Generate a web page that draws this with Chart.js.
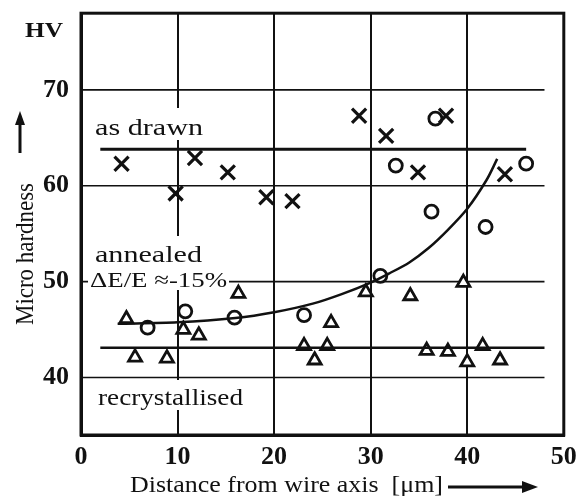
<!DOCTYPE html>
<html>
<head>
<meta charset="utf-8">
<script src="https://cdn.jsdelivr.net/npm/chart.js@4.4.1/dist/chart.umd.min.js"></script>
<style>
  html, body { margin: 0; padding: 0; background: #fff; }
  #wrap { width: 577px; height: 496px; position: relative; }
</style>
</head>
<body>
<div id="wrap"><canvas id="chart"></canvas></div>
<script>
// values
const xTicks = [0, 10, 20, 30, 40, 50];
const yTicks = [40, 50, 60, 70];

const crossX = [4.2, 9.8, 11.8, 15.2, 19.2, 21.9, 28.8, 31.6, 34.9, 37.8, 43.9];
const crossY = [62.3, 59.2, 62.9, 61.4, 58.8, 58.4, 67.3, 65.2, 61.4, 67.3, 61.2];

const circleX = [6.9, 10.8, 15.9, 23.1, 31.0, 32.6, 36.3, 36.7, 41.9, 46.1];
const circleY = [45.2, 46.9, 46.25, 46.5, 50.6, 62.1, 57.3, 67.0, 55.7, 62.3];

const triX = [4.7, 5.6, 8.9, 10.6, 12.2, 16.3, 23.1, 24.2, 25.5, 25.9, 29.5, 34.1, 35.8, 38.0, 39.6, 40.0, 41.6, 43.4];
const triY = [46.1, 42.1, 42.0, 45.0, 44.4, 48.75, 43.3, 41.8, 43.3, 45.7, 48.9, 48.5, 42.8, 42.7, 49.9, 41.6, 43.3, 41.8];

// fitted curve through the annealed points
const curveX = [3.8, 10, 16, 20, 24, 27, 30, 32, 34, 36, 38, 40, 42, 43.1];
const curveY = [45.6, 45.75, 46.2, 46.8, 47.7, 48.7, 49.9, 50.9, 52.0, 53.5, 55.4, 57.6, 60.6, 62.8];

// mean level lines
const drawnLineX = [2, 46.1];
const drawnLineY = [63.8, 63.8];
const recrystLineX = [2, 48];
const recrystLineY = [43.1, 43.1];

const gridEndX = 48;

const pts = (xs, ys) => xs.map((x, i) => ({ x: x, y: ys[i] }));
const SERIF = "'Liberation Serif', serif";

// draw a text stretched to a given width
function fitText(ctx, s, x, y, size, w, bold) {
    ctx.save();
    ctx.font = (bold ? "bold " : "") + size + "px " + SERIF;
    const sx = w / ctx.measureText(s).width;
    ctx.translate(x, y);
    ctx.scale(sx, 1);
    ctx.fillStyle = "#111";
    ctx.textBaseline = "alphabetic";
    ctx.fillText(s, 0, 0);
    ctx.restore();
}

const decor = {
    id: "decor",
    beforeDatasetsDraw(chart) {
        const ctx = chart.ctx;
        const xs = chart.scales.x, ys = chart.scales.y;
        // horizontal grid lines stop short of the right frame
        ctx.save();
        ctx.strokeStyle = "#111";
        ctx.lineWidth = 1.6;
        yTicks.forEach((v) => {
            const py = ys.getPixelForValue(v);
            ctx.beginPath();
            ctx.moveTo(xs.getPixelForValue(0), py);
            ctx.lineTo(xs.getPixelForValue(gridEndX), py);
            ctx.stroke();
        });
        // white boxes behind the labels
        ctx.fillStyle = "#fff";
        ctx.fillRect(92, 108, 114, 32);
        ctx.fillRect(92, 236, 112, 36);
        ctx.fillRect(88, 270, 141, 20);
        ctx.fillRect(94, 380, 152, 30);
        ctx.restore();

        fitText(ctx, "as drawn", 95, 135, 24, 108);
        fitText(ctx, "annealed", 95, 262, 24, 107);
        fitText(ctx, "\u0394E/E \u2248-15%", 90, 287, 22, 137);
        fitText(ctx, "recrystallised", 98, 405, 24, 145);
    },
    afterDraw(chart) {
        const ctx = chart.ctx;
        const a = chart.chartArea;
        ctx.save();
        // frame
        ctx.strokeStyle = "#111";
        ctx.lineWidth = 3;
        ctx.strokeRect(a.left, a.top, a.right - a.left, a.bottom - a.top);

        fitText(ctx, "HV", 25, 37, 22, 38, true);
        fitText(ctx, "Distance from wire axis  [\u03bcm]", 130, 492, 24, 313);

        // rotated y title
        ctx.save();
        ctx.translate(33, 325);
        ctx.rotate(-Math.PI / 2);
        ctx.font = "23px " + SERIF;
        const sx = 142 / ctx.measureText("Micro hardness").width;
        ctx.scale(sx, 1.13);
        ctx.fillStyle = "#111";
        ctx.fillText("Micro hardness", 0, 0);
        ctx.restore();

        // arrows
        ctx.fillStyle = "#111";
        ctx.lineWidth = 3;
        ctx.beginPath();
        ctx.moveTo(20, 153);
        ctx.lineTo(20, 122);
        ctx.stroke();
        ctx.beginPath();
        ctx.moveTo(20, 111);
        ctx.lineTo(25, 125);
        ctx.lineTo(15, 125);
        ctx.closePath();
        ctx.fill();

        ctx.beginPath();
        ctx.moveTo(448, 487);
        ctx.lineTo(525, 487);
        ctx.stroke();
        ctx.beginPath();
        ctx.moveTo(538, 487);
        ctx.lineTo(522, 481);
        ctx.lineTo(522, 493);
        ctx.closePath();
        ctx.fill();
        ctx.restore();
    },
};

const ink = "#111";

new Chart(document.getElementById("chart"), {
    type: "scatter",
    data: {
        datasets: [
            {
                label: "as drawn level",
                data: pts(drawnLineX, drawnLineY),
                showLine: true,
                borderColor: ink,
                borderWidth: 3,
                pointRadius: 0,
            },
            {
                label: "recrystallised level",
                data: pts(recrystLineX, recrystLineY),
                showLine: true,
                borderColor: ink,
                borderWidth: 2.5,
                pointRadius: 0,
            },
            {
                label: "annealed fit",
                data: pts(curveX, curveY),
                showLine: true,
                borderColor: ink,
                borderWidth: 2.5,
                pointRadius: 0,
                tension: 0.3,
            },
            {
                label: "as drawn",
                data: pts(crossX, crossY),
                pointStyle: "crossRot",
                pointRadius: 10,
                borderColor: ink,
                borderWidth: 3.2,
            },
            {
                label: "annealed",
                data: pts(circleX, circleY),
                pointStyle: "circle",
                pointRadius: 6.5,
                borderColor: ink,
                backgroundColor: "#fff",
                borderWidth: 2.8,
            },
            {
                label: "recrystallised",
                data: pts(triX, triY),
                pointStyle: "triangle",
                pointRadius: 7.5,
                borderColor: ink,
                backgroundColor: "#fff",
                borderWidth: 2.8,
            },
        ],
    },
    options: {
        responsive: true,
        maintainAspectRatio: false,
        animation: false,
        layout: { padding: { top: 13, right: 11, left: 0, bottom: 0 } },
        plugins: {
            legend: { display: false },
            tooltip: { enabled: false },
        },
        scales: {
            x: {
                type: "linear",
                min: 0,
                max: 50,
                afterBuildTicks: (s) => { s.ticks = xTicks.map((v) => ({ value: v })); },
                afterFit: (s) => { s.height = 61; s.paddingLeft = 0; s.paddingRight = 0; },
                ticks: {
                    color: ink,
                    padding: 7,
                    maxRotation: 0,
                    font: { family: SERIF, size: 26, weight: "bold" },
                },
                grid: { color: ink, lineWidth: 2, drawTicks: false },
                border: { color: ink, width: 3 },
            },
            y: {
                type: "linear",
                min: 34,
                max: 78,
                afterBuildTicks: (s) => { s.ticks = yTicks.map((v) => ({ value: v })); },
                afterFit: (s) => { s.width = 81; s.paddingTop = 0; s.paddingBottom = 0; },
                ticks: {
                    color: ink,
                    padding: 12,
                    font: { family: SERIF, size: 26, weight: "bold" },
                },
                grid: { display: false, drawTicks: false },
                border: { color: ink, width: 3 },
            },
        },
    },
    plugins: [decor],
});
</script>
</body>
</html>
